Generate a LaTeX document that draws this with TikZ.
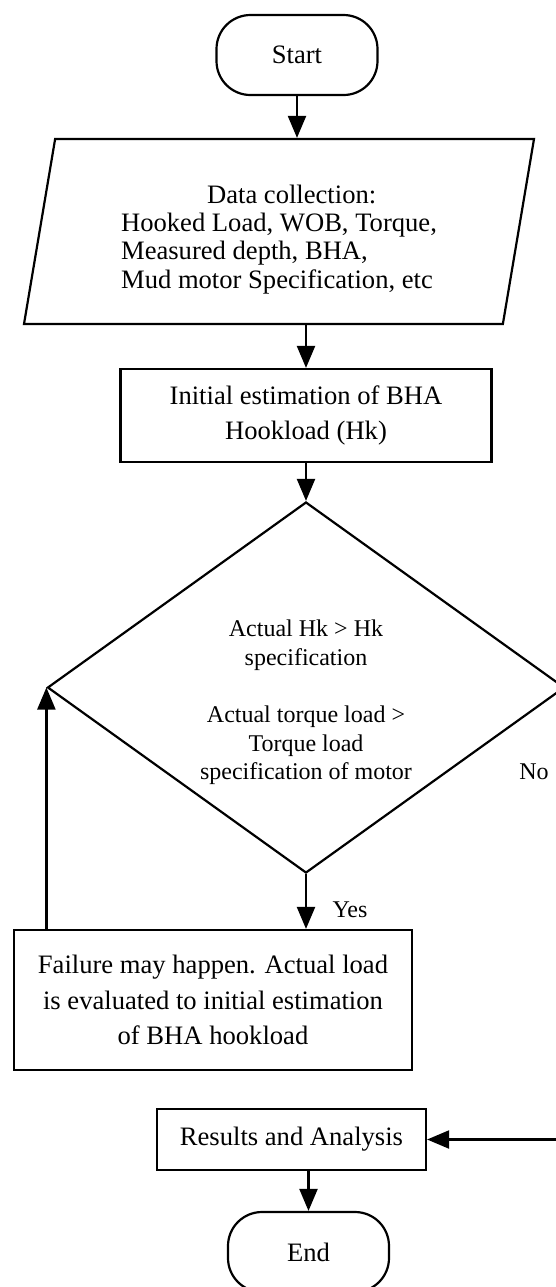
\documentclass[tikz,border=0pt]{standalone}
\usepackage{fontspec}
\setmainfont{Liberation Serif}
\usetikzlibrary{shapes.geometric,arrows.meta}

\begin{document}
\begin{tikzpicture}[x=0.5pt,y=-0.5pt,line width=1.1pt,
    term/.style={draw,rounded corners=17pt,minimum width=80.5pt,minimum height=40pt,font=\fontsize{13.3}{16}\selectfont},
    box/.style={draw,align=center,inner sep=0pt,font=\fontsize{13.3}{17.8}\selectfont},
    arr/.style={-{Triangle[length=11pt,width=9pt]}},
    lbl/.style={font=\fontsize{12}{14}\selectfont}]
        \useasboundingbox (0, 0) rectangle (556, 1287);
        \node[term] (start) at (297, 55) {Start};
        \node[draw,trapezium,trapezium left angle=76,trapezium right angle=104,
              trapezium stretches body=true,minimum width=255pt,minimum height=92.5pt,
              inner sep=0pt,align=left,font=\fontsize{13.3}{14.2}\selectfont]
              (data) at (279, 231.5)
              {\rule{0pt}{17pt}\hspace*{43pt}Data collection:\\ Hooked Load, WOB, Torque,\hspace*{13.5pt}\\
               Measured depth, BHA,\\ Mud motor Specification, etc};
        \node[box,minimum width=185.5pt,minimum height=46.5pt] (init) at (306, 415.5)
              {Initial estimation of BHA\\ Hookload (Hk)};
        \node[draw,diamond,aspect=1.39,minimum width=258.5pt,minimum height=185.5pt,inner sep=0pt,
              align=center,font=\fontsize{12}{14.3}\selectfont] (dia) at (306, 687.5)
              {\rule{0pt}{23.5pt}Actual Hk > Hk\\ specification\\[14.3pt] Actual torque load >\\
               Torque load\\ specification of motor};
        \node[box,minimum width=199pt,minimum height=70pt] (fail) at (213, 1000)
              {Failure may happen. Actual load\\ is evaluated to initial estimation\\
               of BHA hookload};
        \node[box,minimum width=134.5pt,minimum height=30.5pt] (res) at (291.5, 1139.5)
              {Results and Analysis};
        \node[term] (end) at (308.5, 1252) {End};
        \draw[arr] (start.south) -- (start.south |- data.north);
        \draw[arr] (init.north |- data.south) -- (init.north);
        \draw[arr] (init.south) -- (dia.north);
        \draw[arr] (dia.south) -- (dia.south |- fail.north);
        \draw[arr] (fail.north -| dia.west) -- (dia.west);
        \draw[arr] (dia.east) |- (res.east);
        \draw[arr] (end.north |- res.south) -- (end.north);
        \node[lbl] (yes) at (350, 910) {Yes};
        \node[lbl] (no) at (534, 772) {No};
      \end{tikzpicture}
\end{document}
